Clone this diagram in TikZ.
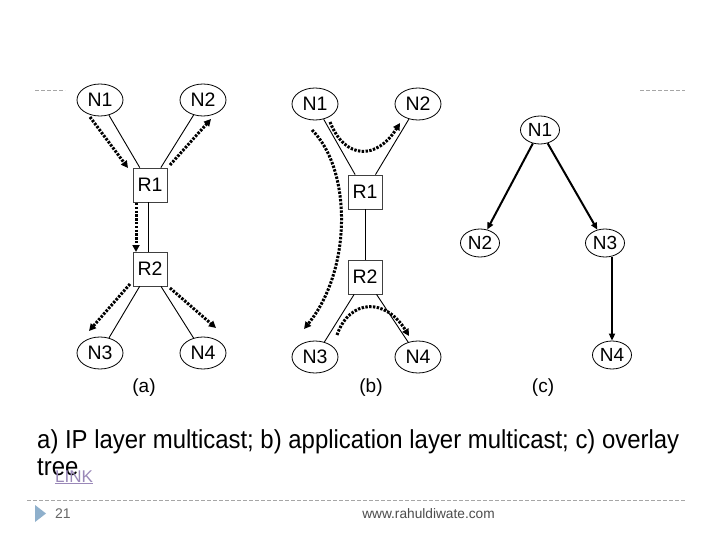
\documentclass[tikz,border=0pt]{standalone}
\usepackage{fontspec}
\setmainfont{Liberation Sans}
\newfontfamily\capfont[FakeStretch=0.92]{Liberation Sans}
\usetikzlibrary{shapes.geometric,arrows.meta}
\definecolor{linkcol}{HTML}{9A88B8}
\definecolor{tricol}{HTML}{8FB0CC}
\begin{document}
\begin{tikzpicture}[x=1pt,y=-1pt,
  hostnode/.style={draw, ellipse, minimum width=46, minimum height=32, inner sep=0pt, line width=0.8pt, font=\fontsize{19.5}{21}\selectfont},
  smallhost/.style={draw, ellipse, minimum width=39, minimum height=28, inner sep=0pt, line width=0.8pt, font=\fontsize{19}{21}\selectfont},
  router/.style={draw=black!75, rectangle, minimum width=34, minimum height=34, inner sep=0pt, line width=0.8pt, font=\fontsize{19.5}{21}\selectfont},
  link/.style={line width=0.9pt},
  dotarrow/.style={line width=3pt, dash pattern=on 2.4pt off 1.4pt, -{Triangle[length=7pt,width=7pt]}},
  treearrow/.style={line width=2pt, -{Triangle[length=7pt,width=6pt]}},
  sublabel/.style={font=\fontsize{19}{21}\selectfont},
  rule/.style={draw=black!35, line width=0.6pt, dash pattern=on 4pt off 2pt}]
\useasboundingbox (0,0) rectangle (720,540);
\fill[white] (0,0) rectangle (720,540);

% top rules
\coordinate (tl1) at (35,90); \coordinate (tl2) at (65,90);
\coordinate (tr1) at (640,90); \coordinate (tr2) at (685,90);
\draw[rule] (tl1) -- (tl2);
\draw[rule] (tr1) -- (tr2);

% ---------- (a) ----------
\node[hostnode] (aN1) at (100,100) {N1};
\node[hostnode] (aN2) at (203,100) {N2};
\node[router] (aR1) at (150,185) {R1};
\node[router] (aR2) at (150,269) {R2};
\node[hostnode] (aN3) at (100,353) {N3};
\node[hostnode] (aN4) at (203,353) {N4};
\draw[link] (aN1) -- (aR1);
\draw[link] (aN2) -- (aR1);
\draw[link] ([xshift=-2pt]aR1.south) -- ([xshift=-2pt]aR2.north);
\draw[link] (aR2) -- (aN3);
\draw[link] (aR2) -- (aN4);
\coordinate (a1s) at (90,117); \coordinate (a1e) at (128,168);
\coordinate (a2s) at (170,165); \coordinate (a2e) at (211,119);
\coordinate (a3s) at (136,203); \coordinate (a3e) at (136,252);
\coordinate (a4s) at (130,284); \coordinate (a4e) at (89,331);
\coordinate (a5s) at (170,288); \coordinate (a5e) at (216,328);
\draw[dotarrow] (a1s) -- (a1e);
\draw[dotarrow] (a2s) -- (a2e);
\draw[dotarrow] (a3s) -- (a3e);
\draw[dotarrow] (a4s) -- (a4e);
\draw[dotarrow] (a5s) -- (a5e);
\node[sublabel] (la) at (144,388) {(a)};

% ---------- (b) ----------
\node[hostnode] (bN1) at (315,104) {N1};
\node[hostnode] (bN2) at (418,104) {N2};
\node[router] (bR1) at (365,192) {R1};
\node[router] (bR2) at (365,277) {R2};
\node[hostnode] (bN3) at (315,357) {N3};
\node[hostnode] (bN4) at (418,357) {N4};
\draw[link] (bN1) -- (bR1);
\draw[link] (bN2) -- (bR1);
\draw[link] (bR1) -- (bR2);
\draw[link] (bR2) -- (bN3);
\draw[link] (bR2) -- (bN4);
\coordinate (b1s) at (330,122); \coordinate (b1e) at (400,123);
\coordinate (b2s) at (312,130); \coordinate (b2e) at (304,329);
\coordinate (b3s) at (337,335); \coordinate (b3e) at (409,336);
\draw[dotarrow] (b1s) .. controls (345,160) and (377,160) .. (b1e);
\draw[dotarrow] (b2s) .. controls (352,170) and (352,270) .. (b2e);
\draw[dotarrow] (b3s) .. controls (350,298) and (386,298) .. (b3e);
\node[sublabel] (lb) at (371,388) {(b)};

% ---------- (c) ----------
\node[smallhost] (cN1) at (540,130) {N1};
\node[smallhost] (cN2) at (480,243) {N2};
\node[smallhost] (cN3) at (605,243) {N3};
\node[smallhost] (cN4) at (612,355) {N4};
\draw[treearrow] (cN1) -- (cN2);
\draw[treearrow] (cN1) -- (cN3);
\draw[treearrow] (cN3.south -| cN4) -- (cN4);
\node[sublabel] (lc) at (543,388) {(c)};

% ---------- caption ----------
\node[anchor=base west, inner sep=0pt, font=\capfont\fontsize{26}{30}\selectfont] (cap1) at (37,448) {a) IP layer multicast; b) application layer multicast; c) overlay};
\node[anchor=base west, inner sep=0pt, font=\capfont\fontsize{26}{30}\selectfont] (cap2) at (37,475) {tree};
\node[anchor=base west, inner sep=0pt, text=linkcol, font=\fontsize{17}{20}\selectfont] (lnk) at (55,482) {\underline{LINK}};

% ---------- footer ----------
\coordinate (f1) at (27,500); \coordinate (f2) at (685,500);
\draw[rule] (f1) -- (f2);
\fill[tricol] (35,505) -- (35,522) -- (46,513.5) -- cycle;
\node[anchor=base west, inner sep=0pt, text=black!60, font=\fontsize{14}{16}\selectfont] (pg) at (55,518) {21};
\node[anchor=base, inner sep=0pt, text=black!70, font=\fontsize{13.7}{16}\selectfont] (web) at (428.5,518) {www.rahuldiwate.com};
\end{tikzpicture}
\end{document}
